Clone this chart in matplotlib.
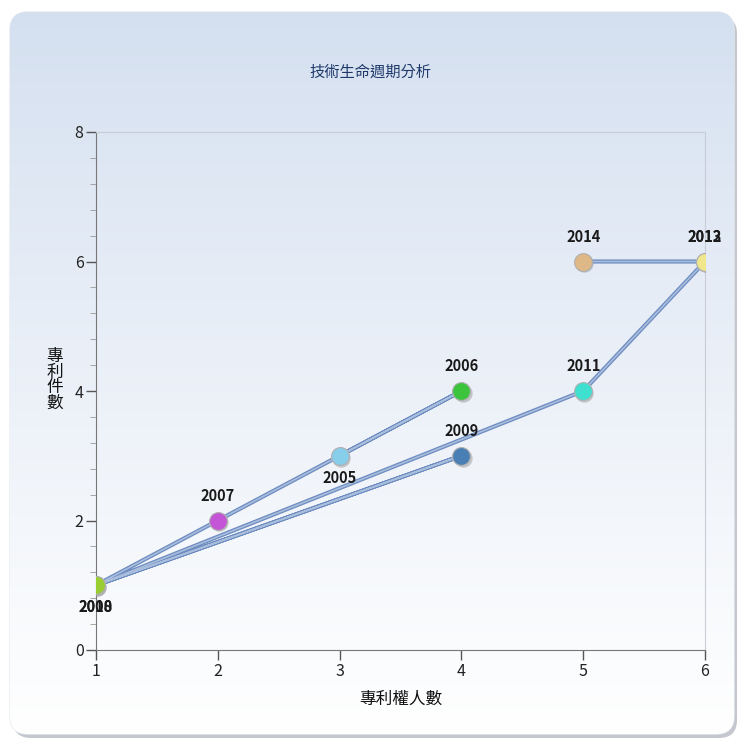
import numpy as np
import matplotlib
matplotlib.use('Agg')
import matplotlib.pyplot as plt
from matplotlib.patches import FancyBboxPatch
from matplotlib.ticker import AutoMinorLocator

plt.rcParams['font.family'] = ['Noto Sans CJK TC', 'DejaVu Sans']

# data
years = [2005, 2006, 2007, 2008, 2009, 2010, 2011, 2012, 2013, 2014]
patentees = [3, 4, 2, 1, 4, 1, 5, 6, 6, 5]
patents = [3, 4, 2, 1, 3, 1, 4, 6, 6, 6]
point_colors = ['#87ceeb', '#3cc43c', '#c455d6', '#9acd32', '#4a7fb5',
                '#9acd32', '#40e0d0', '#f0e68c', '#f0e68c', '#deb887']
labels_below = [2005, 2008, 2010]

fig = plt.figure(figsize=(7.4, 7.44), dpi=100)

# rounded gradient panel behind the chart
bg = fig.add_axes([0, 0, 1, 1])
bg.set_xlim(0, 740)
bg.set_ylim(744, 0)
bg.axis('off')
shadow = FancyBboxPatch((13, 16), 724, 722, boxstyle='round,pad=0,rounding_size=18',
                        fc='#c4c7cd', ec='none')
bg.add_patch(shadow)
panel = FancyBboxPatch((10, 12), 724, 722, boxstyle='round,pad=0,rounding_size=18',
                       fc='none', ec='#e6ebf2', lw=1)
bg.add_patch(panel)
grad = np.linspace(0, 1, 256).reshape(-1, 1)
top = np.array([0.83, 0.875, 0.94])
bottom = np.array([1.0, 1.0, 1.0])
img = top + (bottom - top) * grad[..., None] ** 0.9
im = bg.imshow(img, extent=[10, 734, 734, 12], aspect='auto', zorder=1)
im.set_clip_path(panel)

ax = fig.add_axes([96 / 740, 1 - 650 / 744, (705 - 96) / 740, (650 - 132) / 744])
ax.set_facecolor('none')

# connecting lines
ax.plot(patentees, patents, color='#6d8cc0', lw=3, zorder=2, solid_capstyle='round')
ax.plot(patentees, patents, color='#a9bddd', lw=1.2, zorder=3)

for x, y, c, yr in zip(patentees, patents, point_colors, years):
    ax.scatter(x + 0.01, y - 0.03, s=175, color='#9a9a9a', alpha=0.5, zorder=4, lw=0)
    ax.scatter(x, y, s=165, color=c, edgecolor='#b0b0b0', lw=0.8, zorder=5)
    if yr in labels_below:
        ax.annotate(str(yr), (x, y), xytext=(0, -10), textcoords='offset points',
                    ha='center', va='top', fontsize=10.5, fontweight='bold',
                    color='#1a1a1a', zorder=7 if yr == 2008 else 6)
    else:
        ax.annotate(str(yr), (x, y), xytext=(0, 12), textcoords='offset points',
                    ha='center', va='bottom', fontsize=10.5, fontweight='bold',
                    color='#1a1a1a', zorder=6)

ax.set_xlim(1, 6)
ax.set_ylim(0, 8)
ax.set_xticks([1, 2, 3, 4, 5, 6])
ax.set_yticks([0, 2, 4, 6, 8])
ax.yaxis.set_minor_locator(AutoMinorLocator(5))
ax.tick_params(axis='both', direction='out', length=7, width=1, color='#555555',
               labelsize=11.5, labelcolor='#222222', pad=2)
ax.tick_params(axis='y', which='minor', length=4, color='#999999')
for s in ['left', 'bottom']:
    ax.spines[s].set_color('#777777')
for s in ['top', 'right']:
    ax.spines[s].set_color('#c8ccd4')

ax.set_xlabel('專利權人數', fontsize=12, color='#111111', labelpad=8)
fig.text(55 / 740, 1 - 380 / 744, '專\n利\n件\n數', ha='center', va='center',
         fontsize=12, linespacing=0.9, color='#111111')

fig.text(0.5, 1 - 72 / 744, '技術生命週期分析', ha='center', va='center',
         fontsize=11, color='#1f3a6a')

fig.savefig('out.png', dpi=100)
